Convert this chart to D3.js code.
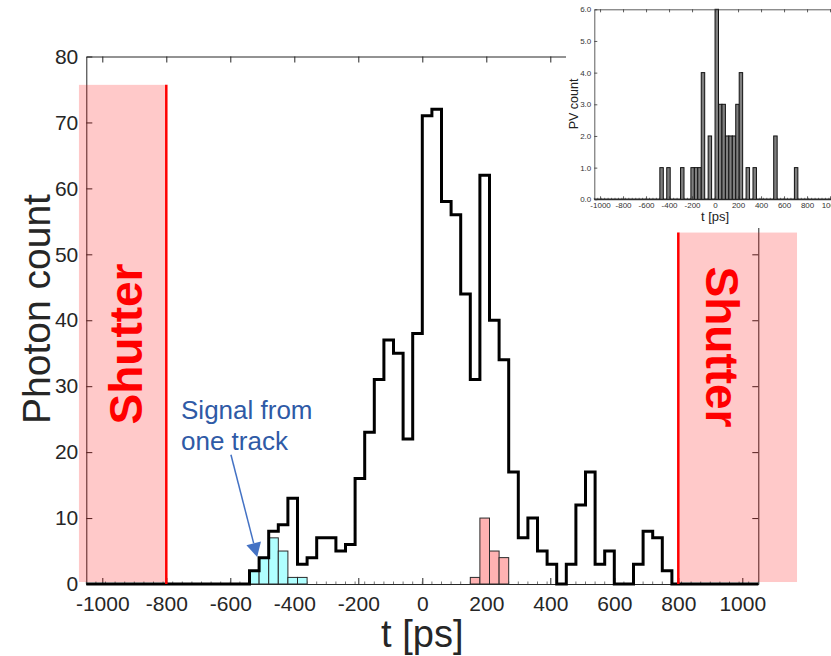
<!DOCTYPE html>
<html>
<head>
<meta charset="utf-8">
<script src="https://cdn.jsdelivr.net/npm/d3@7"></script>
<style>
  body { margin: 0; background: #fff; }
  svg { display: block; font-family: "Liberation Sans", Arial, Helvetica, sans-serif; }
</style>
</head>
<body>
<svg id="chart" width="831" height="656"></svg>
<script>
// ---- Histogram binning (ps) ----
const binStartPs = -1050;
const binEndPs = 1050;
const binWidthPs = 30;

// Photon counts per 30 ps bin, from -1050 ps upwards (70 bins)
const photonCounts = [
  0, 0, 0, 0, 0, 0, 0, 0, 0, 0, 0, 0, 0, 0, 0, 0, 0,          // -1050 … -570
  2, 4, 8, 9, 13, 3, 4, 7, 7, 5, 6, 16, 23, 31, 37, 35, 22, 38, // -540 … -30
  71, 72, 58, 56, 44, 31, 62, 40, 34, 17, 7, 10, 5,            // 0 … 360
  3, 0, 3, 12, 17, 3, 5, 0, 0, 3, 8, 7, 2,                     // 390 … 750
  0, 0, 0, 0, 0, 0, 0, 0, 0                                    // 780 … 1020
];

// Photons attributed to a single track (cyan)
const trackBins = [-540, -510, -480, -450, -420, -390];
const trackCounts = [2, 4, 7, 5, 1, 1];

// Photons of the late group (red)
const lateBins = [150, 180, 210, 240];
const lateCounts = [1, 10, 5, 4];

// Primary-vertex timing (inset)
const pvBins = [-480, -420, -300, -210, -180, -150, -120, -60, 0, 30, 60, 90, 120, 150, 180, 210, 270, 330, 510, 690];
const pvCounts = [1, 1, 1, 1, 1, 1, 4, 2, 6, 3, 3, 2, 2, 2, 3, 4, 1, 1, 2, 1];

// Axis ticks
const xTicks = [-1000, -800, -600, -400, -200, 0, 200, 400, 600, 800, 1000];
const yTicks = [0, 10, 20, 30, 40, 50, 60, 70, 80];
const pvYTicks = [0, 1, 2, 3, 4, 5, 6];

// Shutter-closed windows (t range in ps, count range)
const shutterLeft = { t: [-1073, -800], n: [0.3, 75.7] };
const shutterRight = { t: [800, 1171], n: [0.3, 53.3] };

// Annotation anchor points (data units)
const noteText = ["Signal from", "one track"];
const notePos = { t: -754, n: 25.0 };
const arrowFrom = { t: -598, n: 19.6 };
const arrowTo = { t: -516, n: 4.1 };

// ---- Layout ----
const svg = d3.select("#chart");
const axisColor = "#262626";
const plainNum = d => String(d);   // "-1000" with an ASCII hyphen, no grouping

const x = d3.scaleLinear().domain([binStartPs, binEndPs]).range([86.3, 758.3]);
const y = d3.scaleLinear().domain([0, 80]).range([584, 56.5]);

const binEdges = d3.range(binStartPs, binEndPs + 1, binWidthPs);

// ---- Axes (box with inward ticks) ----
const axes = svg.append("g").attr("class", "axes");

const gx = axes.append("g").attr("transform", `translate(0,${y(0)})`)
  .call(d3.axisBottom(x).tickValues(xTicks).tickFormat(plainNum).tickSizeInner(-6).tickSizeOuter(0).tickPadding(12));
const gxTop = axes.append("g").attr("transform", `translate(0,${y(80)})`)
  .call(d3.axisTop(x).tickValues(xTicks).tickSizeInner(-6).tickSizeOuter(0).tickFormat(""));
const gy = axes.append("g").attr("transform", `translate(${x(binStartPs)},0)`)
  .call(d3.axisLeft(y).tickValues(yTicks).tickFormat(plainNum).tickSizeInner(-6).tickSizeOuter(0).tickPadding(8));
const gyRight = axes.append("g").attr("transform", `translate(${x(binEndPs)},0)`)
  .call(d3.axisRight(y).tickValues(yTicks).tickSizeInner(-6).tickSizeOuter(0).tickFormat(""));

[gx, gxTop, gy, gyRight].forEach(g => {
  g.select(".domain").attr("stroke", axisColor).attr("stroke-width", 1);
  g.selectAll(".tick line").attr("stroke", axisColor).attr("stroke-width", 1);
  g.selectAll(".tick text").attr("fill", axisColor).style("font-size", "21px")
    .style("font-family", '"Liberation Sans", Arial, Helvetica, sans-serif');
});

// small marks at every bin edge along the baseline
svg.append("g").selectAll("line").data(binEdges).join("line")
  .attr("x1", d => x(d)).attr("x2", d => x(d))
  .attr("y1", y(0)).attr("y2", y(0) - 2.5)
  .attr("stroke", "#555").attr("stroke-width", 0.8);

// axis titles
svg.append("text")
  .attr("transform", `translate(36,309) rotate(-90)`)
  .attr("text-anchor", "middle").attr("dy", "0.36em")
  .style("font-size", "39px").attr("fill", axisColor)
  .text("Photon count");
svg.append("text")
  .attr("x", x(0)).attr("y", 647)
  .attr("text-anchor", "middle")
  .style("font-size", "38px").attr("fill", axisColor)
  .text("t [ps]");

// ---- Filled sub-histograms ----
function drawBars(bins, counts, fill) {
  svg.append("g").selectAll("rect").data(bins).join("rect")
    .attr("x", d => x(d))
    .attr("width", d => x(d + binWidthPs) - x(d))
    .attr("y", (d, i) => y(counts[i]))
    .attr("height", (d, i) => y(0) - y(counts[i]))
    .attr("fill", fill)
    .attr("stroke", "#2a2a2a").attr("stroke-width", 1);
}
drawBars(trackBins, trackCounts, "rgb(176,255,255)");
drawBars(lateBins, lateCounts, "rgb(255,178,178)");

// ---- Outline histogram of all photons ----
const stairPts = photonCounts.map((c, i) => [binEdges[i], c]);
stairPts.push([binEdges[photonCounts.length], photonCounts[photonCounts.length - 1]]);
svg.append("path")
  .attr("d", d3.line().x(d => x(d[0])).y(d => y(d[1])).curve(d3.curveStepAfter)(stairPts))
  .attr("fill", "none").attr("stroke", "#000").attr("stroke-width", 3)
  .attr("stroke-linejoin", "miter");

// ---- Shutter windows ----
function shutter(s, lineT) {
  svg.append("rect")
    .attr("x", x(s.t[0])).attr("width", x(s.t[1]) - x(s.t[0]))
    .attr("y", y(s.n[1])).attr("height", y(s.n[0]) - y(s.n[1]))
    .attr("fill", "rgb(255,0,0)").attr("fill-opacity", 0.21);
  svg.append("line")
    .attr("x1", x(lineT)).attr("x2", x(lineT))
    .attr("y1", y(s.n[1])).attr("y2", y(0))
    .attr("stroke", "#ff0000").attr("stroke-width", 2.5);
}
shutter(shutterLeft, -800);
shutter(shutterRight, 800);

svg.append("text")
  .attr("transform", `translate(125,344) rotate(-90)`)
  .attr("text-anchor", "middle").attr("dy", "0.36em")
  .style("font-size", "46px").style("font-weight", "bold").attr("fill", "#ff0000")
  .text("Shutter");
svg.append("text")
  .attr("transform", `translate(723,347) rotate(90)`)
  .attr("text-anchor", "middle").attr("dy", "0.36em")
  .style("font-size", "46px").style("font-weight", "bold").attr("fill", "#ff0000")
  .text("Shutter");

// ---- Annotation ----
const note = svg.append("text")
  .attr("x", x(notePos.t)).attr("y", y(notePos.n))
  .style("font-size", "26px").attr("fill", "#2f5aa6");
noteText.forEach((s, i) => {
  note.append("tspan").attr("x", x(notePos.t)).attr("dy", i === 0 ? 0 : 31).text(s);
});

const ax0 = x(arrowFrom.t), ay0 = y(arrowFrom.n), ax1 = x(arrowTo.t), ay1 = y(arrowTo.n);
const len = Math.hypot(ax1 - ax0, ay1 - ay0);
const ux = (ax1 - ax0) / len, uy = (ay1 - ay0) / len;
const headL = 14, headW = 7.5;
const bx = ax1 - ux * headL, by = ay1 - uy * headL;
svg.append("line")
  .attr("x1", ax0).attr("y1", ay0).attr("x2", bx).attr("y2", by)
  .attr("stroke", "#4472c4").attr("stroke-width", 1.5);
svg.append("path")
  .attr("d", `M${ax1},${ay1}L${bx - uy * headW},${by + ux * headW}L${bx + uy * headW},${by - ux * headW}Z`)
  .attr("fill", "#4472c4");

// ---- Inset: primary-vertex time distribution ----
const inset = svg.append("g").attr("class", "inset");
inset.append("rect").attr("x", 566).attr("y", 0).attr("width", 265).attr("height", 228).attr("fill", "#fff");

const ix = d3.scaleLinear().domain([binStartPs, binEndPs]).range([594.3, 835.8]);
const iy = d3.scaleLinear().domain([0, 6]).range([199.3, 9.3]);

// zero-height bins show as a dark baseline with edge marks
inset.append("line")
  .attr("x1", ix(binStartPs)).attr("x2", 831).attr("y1", iy(0)).attr("y2", iy(0))
  .attr("stroke", "#222").attr("stroke-width", 1.6);
inset.append("g").selectAll("line").data(binEdges).join("line")
  .attr("x1", d => ix(d)).attr("x2", d => ix(d))
  .attr("y1", iy(0)).attr("y2", iy(0) - 1.5)
  .attr("stroke", "#333").attr("stroke-width", 0.7);

inset.append("g").selectAll("rect").data(pvBins).join("rect")
  .attr("x", d => ix(d))
  .attr("width", d => ix(d + binWidthPs) - ix(d))
  .attr("y", (d, i) => iy(pvCounts[i]))
  .attr("height", (d, i) => iy(0) - iy(pvCounts[i]))
  .attr("fill", "#7f7f7f").attr("stroke", "#111").attr("stroke-width", 1);

const pvTicksX = inset.append("g").attr("transform", `translate(0,${iy(0)})`)
  .call(d3.axisBottom(ix).tickValues(xTicks).tickFormat(plainNum).tickSizeInner(-3).tickSizeOuter(0).tickPadding(3.5));
const pvTopX = inset.append("g").attr("transform", `translate(0,${iy(6)})`)
  .call(d3.axisTop(ix).tickValues(xTicks).tickSizeInner(-3).tickSizeOuter(0).tickFormat(""));
const pvLeftY = inset.append("g").attr("transform", `translate(${ix(binStartPs)},0)`)
  .call(d3.axisLeft(iy).tickValues(pvYTicks).tickSizeInner(-3).tickSizeOuter(0).tickPadding(3).tickFormat(d3.format(".1f")));
[pvTicksX, pvTopX, pvLeftY].forEach(g => {
  g.select(".domain").attr("stroke", "#333").attr("stroke-width", 0.8);
  g.selectAll(".tick line").attr("stroke", "#333").attr("stroke-width", 0.8);
  g.selectAll(".tick text").attr("fill", "#333").style("font-size", "8px")
    .style("font-family", '"Liberation Sans", Arial, Helvetica, sans-serif');
});

inset.append("text")
  .attr("transform", `translate(573,104) rotate(-90)`)
  .attr("text-anchor", "middle").attr("dy", "0.36em")
  .style("font-size", "12.5px").attr("fill", "#222")
  .text("PV count");
inset.append("text")
  .attr("x", ix(0)).attr("y", 221)
  .attr("text-anchor", "middle")
  .style("font-size", "13px").attr("fill", "#222")
  .text("t [ps]");
</script>
</body>
</html>
